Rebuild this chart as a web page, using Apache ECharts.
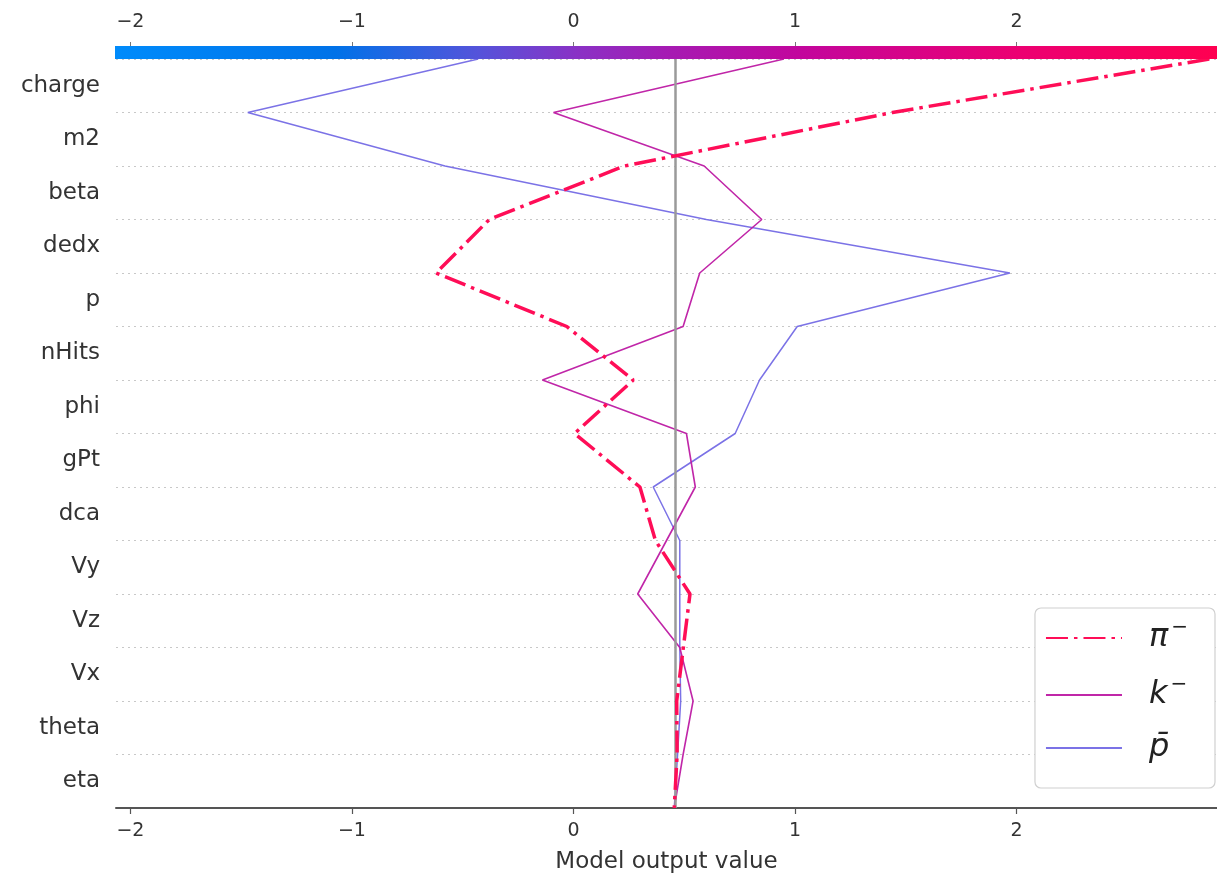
<!DOCTYPE html>
<html>
<head>
<meta charset="utf-8">
<script src="https://cdn.jsdelivr.net/npm/echarts@6/dist/echarts.min.js"></script>
<style>
html,body{margin:0;padding:0;background:#fff;}
#chart{width:1217px;height:879px;}
</style>
</head>
<body>
<div id="chart"></div>
<script>
// Features, top to bottom
const features = ['charge','m2','beta','dedx','p','nHits','phi','gPt','dca','Vy','Vz','Vx','theta','eta'];
// Cumulative model output at each boundary, from the top of the plot (final output) down to the base value
const piMinus = [2.87, 1.44, 0.23, -0.38, -0.62, -0.03, 0.27, 0.005, 0.30, 0.37, 0.526, 0.496, 0.466, 0.468, 0.455];
const kMinus  = [0.95, -0.09, 0.59, 0.85, 0.57, 0.495, -0.14, 0.51, 0.55, 0.42, 0.29, 0.48, 0.54, 0.495, 0.455];
const pBar    = [-0.43, -1.47, -0.58, 0.60, 1.97, 1.01, 0.84, 0.73, 0.36, 0.48, 0.48, 0.48, 0.484, 0.47, 0.455];
const baseValue = 0.455;
const xTicks = [-2, -1, 0, 1, 2];
const xMin = -2.065, xMax = 2.905;

const FONT = 'DejaVu Sans';
const nLev = piMinus.length - 1;
function toPts(arr){ return arr.map((v,i)=>[v, nLev - i]); }
const fmt = v => String(v).replace('-', '\u2212');

const chart = echarts.init(document.getElementById('chart'), null, {renderer:'canvas'});
const gridLeft = 116, gridTop = 59, gridBottom = 71;

const option = {
  animation: false,
  backgroundColor: '#fff',
  grid: {left: gridLeft, right: 0, top: gridTop, bottom: gridBottom, containLabel: false},
  xAxis: [
    {
      type: 'value', position: 'bottom', min: xMin, max: xMax,
      axisLine: {show: true, lineStyle: {color: '#555', width: 2}},
      axisTick: {show: true, length: 6, lineStyle: {color: '#555', width: 1.2}, customValues: xTicks},
      axisLabel: {color: '#333', fontSize: 19, fontFamily: FONT, margin: 14, customValues: xTicks, formatter: fmt},
      splitLine: {show: false},
      name: 'Model output value', nameLocation: 'middle', nameGap: 43,
      nameTextStyle: {color: '#333', fontSize: 23, fontFamily: FONT}
    },
    {
      type: 'value', position: 'top', min: xMin, max: xMax, offset: 13,
      axisLine: {show: false},
      axisTick: {show: true, length: 4, lineStyle: {color: '#777', width: 1}, customValues: xTicks},
      axisLabel: {color: '#333', fontSize: 19, fontFamily: FONT, margin: 14, customValues: xTicks, formatter: fmt},
      splitLine: {show: false}
    }
  ],
  yAxis: [
    {
      type: 'category', data: features, inverse: true,
      axisLine: {show: false}, axisTick: {show: false},
      axisLabel: {color: '#333', fontSize: 23, fontFamily: FONT, margin: 16},
      splitLine: {show: false}
    },
    {
      type: 'value', min: 0, max: nLev, interval: 1,
      axisLine: {show: false}, axisTick: {show: false}, axisLabel: {show: false},
      splitLine: {show: true, lineStyle: {color: '#c8c8c8', type: [2, 4], width: 1.2}}
    }
  ],
  legend: {
    orient: 'vertical', right: 2, top: 608,
    itemWidth: 76, itemHeight: 20, itemGap: 21,
    padding: [10, 27, 24, 10],
    borderColor: '#d0d0d0', borderWidth: 1.2, borderRadius: 6, backgroundColor: '#fff',
    itemStyle: {opacity: 0, borderWidth: 0},
    data: ['pi', 'k', 'pbar'],
    formatter: function(name){
      if (name === 'pi') return '{i|\u03c0}{s|\u2212}';
      if (name === 'k') return '{i|k}{s|\u2212}';
      return '{i|p\u0304}';
    },
    textStyle: {
      rich: {
        i: {fontFamily: FONT, fontStyle: 'italic', fontSize: 32, color: '#222', padding: [0, 0, 0, 22], lineHeight: 40},
        s: {fontFamily: FONT, fontSize: 20, color: '#222', verticalAlign: 'top', lineHeight: 20, padding:[0,0,0,3]}
      }
    }
  },
  graphic: [],
  series: [
    {
      name: 'base', type: 'line', xAxisIndex: 0, yAxisIndex: 1, data: [], z: 1, silent: true,
      markLine: {
        silent: true, symbol: 'none', animation: false,
        label: {show: false},
        lineStyle: {color: '#9a9a9a', width: 2.5, type: 'solid'},
        data: [{xAxis: baseValue}]
      }
    },
    {
      name: 'pbar', type: 'line', xAxisIndex: 0, yAxisIndex: 1, data: toPts(pBar),
      showSymbol: false, symbol: 'none', z: 3,
      lineStyle: {color: '#6d63e3', width: 1.5, opacity: 0.9},
      itemStyle: {color: '#6d63e3'}
    },
    {
      name: 'k', type: 'line', xAxisIndex: 0, yAxisIndex: 1, data: toPts(kMinus),
      showSymbol: false, symbol: 'none', z: 4,
      lineStyle: {color: '#bd1aa3', width: 1.6, opacity: 0.95},
      itemStyle: {color: '#bd1aa3'}
    },
    {
      name: 'pi', type: 'line', xAxisIndex: 0, yAxisIndex: 1, data: toPts(piMinus),
      showSymbol: false, symbol: 'none', z: 5,
      lineStyle: {color: '#ff0d57', width: 3.5, type: [22, 6, 3.5, 6], cap: 'butt'},
      itemStyle: {color: '#ff0d57'}
    }
  ]
};
chart.setOption(option);

// colour bar along the top of the plot area, spanning the x range
const x0 = chart.convertToPixel({xAxisIndex: 0}, xMin);
const x1 = chart.convertToPixel({xAxisIndex: 0}, xMax);
chart.setOption({
  graphic: [{
    type: 'rect', z: 100,
    shape: {x: x0 - 1, y: gridTop - 13, width: x1 - x0 + 1, height: 13},
    style: {
      fill: new echarts.graphic.LinearGradient(0, 0, 1, 0, [
        {offset: 0, color: '#008bfb'},
        {offset: 0.2, color: '#0072e8'},
        {offset: 0.33, color: '#5553da'},
        {offset: 0.42, color: '#8a31c5'},
        {offset: 0.5, color: '#a51bb3'},
        {offset: 0.62, color: '#c2069d'},
        {offset: 0.82, color: '#ec0072'},
        {offset: 1, color: '#ff0051'}
      ])
    }
  }]
});
</script>
</body>
</html>
